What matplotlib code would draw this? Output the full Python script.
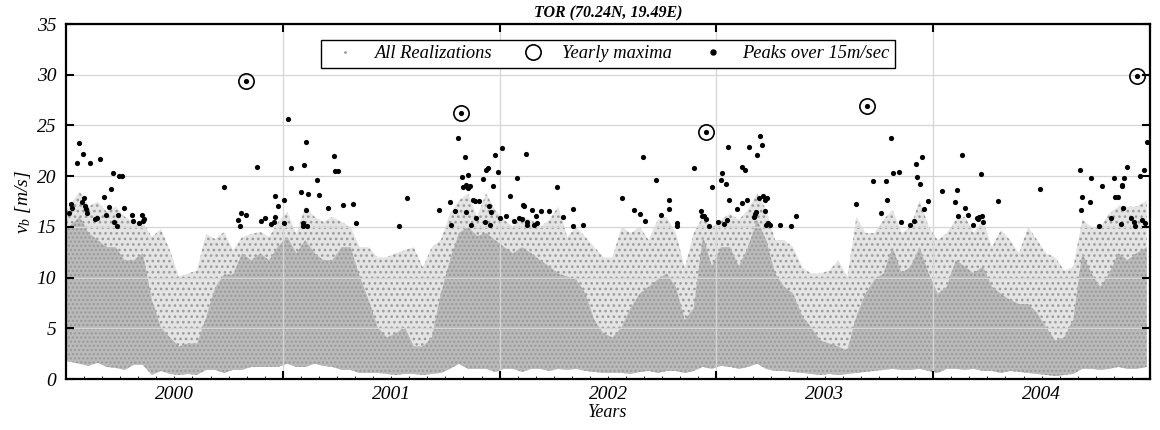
import numpy as np
import matplotlib
matplotlib.use("Agg")
import matplotlib.pyplot as plt
from matplotlib.lines import Line2D

plt.rcParams['font.family'] = ['Liberation Serif', 'DejaVu Serif']
plt.rcParams['font.style'] = 'italic'
plt.rcParams['mathtext.fontset'] = 'custom'
plt.rcParams['mathtext.it'] = 'Liberation Serif:italic'
plt.rcParams['mathtext.rm'] = 'Liberation Serif:italic'
plt.rcParams['hatch.linewidth'] = 1.1

# half-month envelope of all wind speed realizations (m/s), 2000-2004
cloud_hi = [16.5, 18.5, 17.0, 17.5, 16.5, 17.0, 16.0, 15.5, 15.5, 14.0, 14.8, 12.7,
            10.1, 10.4, 10.7, 14.3, 13.8, 14.5, 12.7, 14.0, 14.3, 14.5, 14.0, 15.5,
            16.5, 14.3, 17.0, 16.0, 15.5, 16.0, 15.5, 15.0, 13.0, 13.0, 12.0, 12.0,
            12.4, 12.7, 13.0, 11.0, 13.0, 13.7, 16.3, 17.6, 18.3, 16.0, 18.3, 16.7,
            15.7, 15.0, 16.0, 15.7, 15.0, 15.7, 17.0, 14.0, 15.0, 14.0, 13.0, 12.0,
            12.0, 15.0, 14.4, 15.0, 13.7, 15.7, 16.0, 14.4, 11.0, 14.4, 16.0, 15.0,
            15.7, 16.3, 15.7, 16.7, 18.3, 16.7, 13.7, 13.7, 13.0, 11.0, 10.4, 10.4,
            10.7, 11.7, 10.1, 16.0, 14.4, 14.4, 15.7, 16.7, 14.4, 15.0, 17.6, 15.0,
            13.7, 14.4, 15.7, 16.0, 14.4, 15.7, 13.0, 14.7, 13.7, 12.4, 15.0, 13.7,
            12.4, 12.0, 10.7, 11.0, 15.7, 15.0, 15.0, 16.3, 17.0, 17.0, 17.0, 17.6]
cloud_core = [14.7, 16.0, 14.4, 13.7, 13.0, 13.0, 11.7, 11.7, 12.4, 7.8, 5.1, 4.1,
              3.2, 3.5, 3.5, 6.0, 9.0, 10.3, 10.3, 12.4, 11.7, 12.4, 11.7, 13.1,
              14.0, 12.4, 13.7, 12.4, 11.7, 11.7, 13.0, 13.0, 10.1, 7.8, 5.1, 4.1,
              4.5, 5.1, 3.2, 3.2, 4.1, 8.4, 11.7, 14.4, 15.0, 14.1, 14.4, 13.7,
              13.0, 12.4, 13.0, 12.4, 11.7, 11.1, 10.4, 10.1, 9.8, 8.4, 5.8, 4.5,
              4.1, 5.1, 7.0, 8.4, 9.1, 9.8, 10.4, 9.1, 5.8, 7.0, 14.1, 11.1,
              13.0, 13.0, 11.1, 13.0, 15.7, 13.7, 10.4, 9.1, 8.4, 6.2, 5.1, 3.8,
              3.5, 3.2, 2.8, 6.2, 8.4, 9.8, 10.4, 13.0, 10.4, 11.1, 13.0, 10.4,
              8.4, 9.1, 11.7, 11.1, 10.4, 11.1, 9.1, 8.4, 7.8, 7.4, 7.4, 6.5,
              5.1, 3.8, 4.1, 5.8, 12.4, 10.4, 9.1, 10.4, 12.4, 11.7, 12.4, 13.0]
cloud_lo = [1.8, 1.5, 1.3, 1.6, 1.2, 1.1, 0.9, 1.4, 1.4, 0.4, 0.8, 0.5,
            0.4, 0.5, 0.4, 0.9, 0.9, 0.6, 0.9, 0.9, 1.2, 1.2, 1.2, 1.2,
            1.5, 1.2, 1.2, 1.5, 1.3, 1.2, 0.9, 0.9, 0.6, 0.6, 0.6, 0.5,
            0.4, 0.5, 0.5, 0.4, 0.5, 0.6, 1.0, 1.5, 1.0, 1.0, 1.0, 0.7,
            1.0, 1.0, 0.7, 1.0, 1.0, 0.8, 1.0, 0.9, 1.0, 0.8, 0.7, 0.6,
            0.6, 0.6, 0.5, 0.7, 0.8, 0.6, 0.8, 0.8, 0.6, 0.8, 1.2, 1.0,
            1.3, 1.2, 1.0, 1.2, 1.5, 1.0, 0.8, 0.8, 0.7, 0.6, 0.5, 0.4,
            0.5, 0.4, 0.5, 0.6, 0.7, 0.8, 0.9, 1.0, 0.9, 0.9, 1.0, 0.8,
            0.6, 1.0, 1.0, 0.9, 1.0, 0.8, 0.8, 0.6, 0.8, 0.7, 0.6, 0.5,
            0.4, 0.3, 0.4, 0.5, 1.0, 1.0, 0.9, 1.0, 1.2, 1.0, 1.0, 1.2]

# peaks over threshold: time in years since 2000-01-01, speed in m/s
peak_t = [0.014, 0.023, 0.029, 0.049, 0.061, 0.077, 0.083, 0.076, 0.087, 0.092, 0.098, 0.110,
          0.135, 0.144, 0.155, 0.175, 0.185, 0.197, 0.208, 0.215, 0.221, 0.233, 0.239, 0.243,
          0.259, 0.267, 0.304, 0.310, 0.337, 0.350, 0.356, 0.359,
          0.728, 0.795, 0.804, 0.809, 0.828, 0.832, 0.880, 0.899, 0.917, 0.945, 0.959, 0.963,
          0.966, 0.979, 1.005, 1.006, 1.026, 1.037, 1.085, 1.094, 1.095, 1.098, 1.106, 1.109,
          1.112, 1.115, 1.160, 1.166, 1.210, 1.238, 1.241, 1.256, 1.276, 1.325, 1.338, 1.536,
          1.571, 1.721, 1.770, 1.775, 1.793, 1.810, 1.822, 1.827, 1.833, 1.841, 1.845, 1.845,
          1.856, 1.856, 1.862, 1.870, 1.879, 1.887, 1.891, 1.905, 1.925, 1.934, 1.937, 1.945,
          1.953, 1.957, 1.959, 1.970, 1.980, 1.994, 2.000, 2.010, 2.029, 2.046, 2.065, 2.079,
          2.089, 2.104, 2.109, 2.114, 2.123, 2.127, 2.127, 2.149, 2.160, 2.167, 2.172, 2.191,
          2.229, 2.264, 2.293, 2.338, 2.338, 2.384,
          2.563, 2.620, 2.646, 2.661, 2.671, 2.723, 2.743, 2.780, 2.783, 2.816, 2.820, 2.896,
          2.931, 2.935, 2.942, 2.951, 2.953, 2.964, 2.981, 3.008, 3.019, 3.025, 3.037, 3.042,
          3.050, 3.054, 3.057, 3.096, 3.117, 3.120, 3.134, 3.139, 3.148, 3.174, 3.180, 3.181,
          3.186, 3.197, 3.201, 3.212, 3.215, 3.223, 3.226, 3.231, 3.232, 3.240, 3.248, 3.292,
          3.342, 3.365,
          3.646, 3.694, 3.721, 3.761, 3.784, 3.789, 3.806, 3.814, 3.843, 3.853, 3.895, 3.912,
          3.919, 3.927, 3.939, 3.948, 3.958, 3.977, 4.040, 4.099, 4.108, 4.114, 4.132, 4.146,
          4.161, 4.183, 4.204, 4.206, 4.211, 4.219, 4.223, 4.231, 4.300, 4.492,
          4.677, 4.683, 4.688, 4.722, 4.728, 4.763, 4.777, 4.820, 4.832, 4.837, 4.850, 4.864,
          4.869, 4.872, 4.877, 4.880, 4.896, 4.914, 4.926, 4.929, 4.939, 4.955, 4.965, 4.971,
          4.975, 4.986]
peak_v = [16.4, 17.3, 16.9, 21.3, 23.3, 22.2, 17.8, 17.5, 17.1, 16.8, 16.4, 21.3,
          15.8, 15.9, 21.7, 17.9, 16.2, 17.0, 18.7, 20.3, 15.5, 15.1, 16.2, 20.0,
          20.0, 16.9, 16.2, 15.6, 15.4, 16.2, 15.6, 15.8,
          18.9, 15.7, 15.1, 16.4, 16.2, 29.4, 20.9, 15.6, 15.9, 15.3, 15.5, 16.0,
          18.0, 17.1, 15.4, 17.7, 25.6, 20.8, 18.4, 15.1, 15.4, 21.1, 16.7, 23.4,
          15.1, 18.2, 19.6, 18.1, 16.9, 22.0, 20.5, 20.5, 17.2, 17.3, 15.4, 15.1,
          17.8, 16.7, 17.5, 15.2, 16.6, 23.8, 26.2, 19.9, 18.9, 21.9, 19.1, 16.5,
          20.1, 18.8, 19.0, 15.2, 17.7, 17.6, 15.9, 17.6, 19.7, 15.5, 20.6, 20.8,
          17.1, 15.2, 16.5, 19.0, 22.1, 20.4, 15.9, 22.8, 16.1, 18.0, 15.6, 19.8,
          15.9, 15.8, 17.2, 17.1, 22.2, 15.5, 15.2, 16.7, 15.2, 16.1, 15.4, 16.6,
          16.6, 18.9, 16.0, 16.8, 15.1, 15.2,
          17.8, 16.7, 16.3, 21.9, 15.6, 19.6, 16.2, 17.7, 16.8, 15.1, 15.4, 20.8,
          16.6, 16.1, 16.1, 15.8, 24.4, 15.1, 18.9, 15.5, 19.6, 20.3, 15.3, 19.2,
          15.7, 22.9, 17.7, 16.8, 20.9, 17.4, 20.6, 17.7, 22.9, 16.0, 16.3, 16.5,
          22.1, 17.8, 24.0, 23.1, 18.0, 17.7, 16.6, 15.2, 17.8, 15.4, 15.2, 15.2,
          15.1, 16.1,
          17.3, 26.9, 19.5, 16.4, 19.5, 17.7, 23.8, 20.3, 20.4, 15.5, 15.2, 15.6,
          21.2, 19.9, 19.2, 21.9, 16.8, 17.6, 18.5, 17.5, 18.6, 16.1, 22.1, 16.9,
          16.2, 15.2, 15.9, 15.8, 16.0, 20.2, 16.1, 15.5, 17.6, 18.7,
          20.6, 16.7, 17.9, 17.5, 19.8, 15.1, 19.0, 15.9, 19.8, 17.9, 17.9, 15.3,
          19.1, 19.0, 16.9, 19.8, 20.9, 15.9, 15.5, 15.1, 29.9, 20.0, 15.7, 20.6,
          15.4, 23.4]

# annual maxima
ymax_t = [0.832, 1.822, 2.953, 3.694, 4.939]
ymax_v = [29.4, 26.2, 24.4, 26.9, 29.9]

years = [2000, 2001, 2002, 2003, 2004]
t0 = 2000.0

fig = plt.figure(figsize=(11.6, 4.3), dpi=100)
ax = fig.add_axes([0.0569, 0.1186, 0.9345, 0.8254])

# realizations cloud: sparse outer band and dense core, centred on each half month
tc = t0 + (np.arange(len(cloud_hi)) + 0.5) / 24.0
tc[0], tc[-1] = t0, 2004.985
ax.fill_between(tc, cloud_lo, cloud_hi, facecolor='#e4e4e4', edgecolor='#9c9c9c',
                hatch='...', linewidth=0, zorder=0.3)
ax.fill_between(tc, cloud_lo, cloud_core, facecolor='#bababa', edgecolor='#999999',
                hatch='....', linewidth=0, zorder=0.3)

ax.scatter(t0 + np.array(peak_t), peak_v, s=14, color='black', zorder=4, linewidths=0)
ax.plot(t0 + np.array(ymax_t), ymax_v, linestyle='none', marker='o', markersize=11,
        markerfacecolor='none', markeredgecolor='black', markeredgewidth=1.2, zorder=5)

ax.set_xlim(2000.0, 2004.985)
ax.set_ylim(0, 35)

# year boundaries carry the grid, monthly minor ticks carry the year labels
ax.set_xticks(years[1:] + [2005])
ax.set_xticklabels([])
months = t0 + np.arange(1, 60) / 12.0
ax.set_xticks(months, minor=True)
ax.set_xticklabels([str(years[k // 12]) if k % 12 == 6 else '' for k in range(1, 60)],
                   minor=True)
ax.set_yticks(np.arange(0, 36, 5))
ax.tick_params(axis='both', which='major', direction='in', length=6, width=1.5,
               top=True, right=True, labelsize=14)
ax.tick_params(axis='x', which='minor', direction='in', length=2.5, width=0.6,
               top=False, labelsize=14, pad=5)
ax.tick_params(axis='y', which='both', pad=7)
ax.grid(True, which='major', color='#d6d6d6', linewidth=0.9)
ax.set_axisbelow(True)
for s in ax.spines.values():
    s.set_linewidth(1.6)

ax.set_title('TOR (70.24N, 19.49E)', fontsize=11.5, fontweight='bold', pad=5)
ax.set_xlabel('Years', fontsize=13, labelpad=1)
ax.set_ylabel(r'$v_b$ [m/s]', fontsize=14, labelpad=3)

handles = [
    Line2D([], [], linestyle='none', marker='.', markersize=2, color='#9a9a9a'),
    Line2D([], [], linestyle='none', marker='o', markersize=11, markerfacecolor='none',
           markeredgecolor='black', markeredgewidth=1.2),
    Line2D([], [], linestyle='none', marker='o', markersize=3.6, color='black'),
]
leg = ax.legend(handles, ['All Realizations', 'Yearly maxima', 'Peaks over 15m/sec'],
                loc='upper center', bbox_to_anchor=(0.5, 0.982), ncol=3, fontsize=13.3,
                frameon=True, fancybox=False, framealpha=1, edgecolor='black',
                borderpad=0.3, handletextpad=0.6, columnspacing=1.2)
leg.get_frame().set_linewidth(1.0)
leg.set_zorder(6)

fig.savefig('out.png', dpi=100)
